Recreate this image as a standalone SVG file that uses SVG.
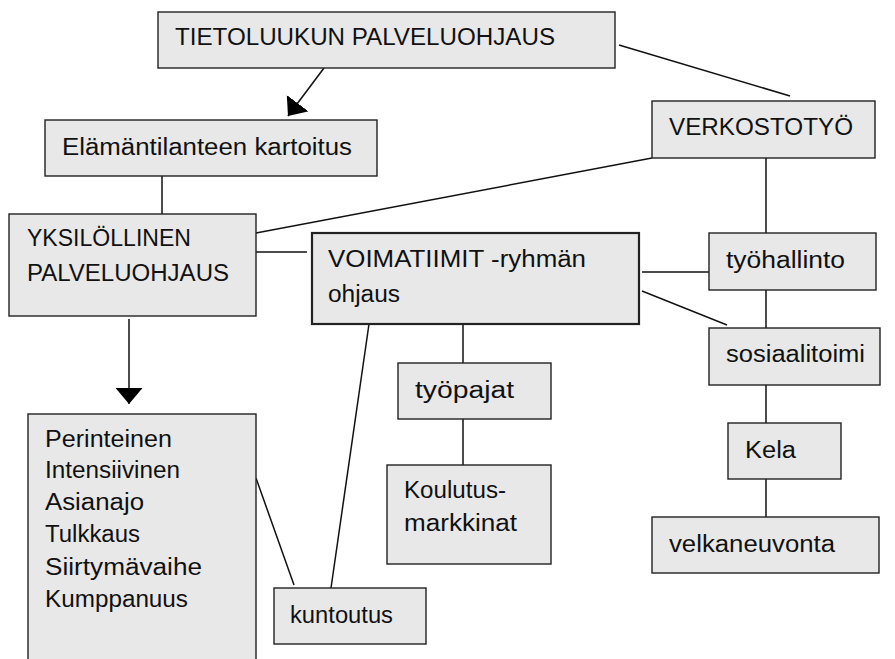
<svg xmlns="http://www.w3.org/2000/svg" width="895" height="659" viewBox="0 0 895 659">
<style>
.box{fill:#e8e8e8;stroke:#222;stroke-width:1.4}
.thick{stroke-width:2.2}
.t{font-family:"Liberation Sans","DejaVu Sans",sans-serif;font-size:23px;fill:#111}
.c{stroke:#111;stroke-width:1.5;fill:none}
</style>
<defs>
<marker id="ah" viewBox="0 0 16 27" refX="16" refY="13.5" markerWidth="16" markerHeight="27" markerUnits="userSpaceOnUse" orient="auto">
<path d="M0,0 L16,13.5 L0,27 Z" fill="#000"/>
</marker>
</defs>
<rect width="895" height="659" fill="#fff"/>
<g id="connectors">
<line class="c" x1="324" y1="68" x2="288" y2="116" marker-end="url(#ah)"/>
<line class="c" x1="619" y1="45" x2="790" y2="96"/>
<line class="c" x1="652" y1="158" x2="256" y2="233"/>
<line class="c" x1="162" y1="176" x2="162" y2="214"/>
<line class="c" x1="256" y1="252" x2="307" y2="252"/>
<line class="c" x1="642" y1="272" x2="712" y2="272"/>
<line class="c" x1="642" y1="291" x2="727" y2="325"/>
<line class="c" x1="766" y1="158" x2="766" y2="233"/>
<line class="c" x1="766" y1="290" x2="766" y2="328"/>
<line class="c" x1="766" y1="385" x2="766" y2="423"/>
<line class="c" x1="766" y1="479" x2="766" y2="517"/>
<line class="c" x1="463" y1="324" x2="463" y2="363"/>
<line class="c" x1="463" y1="419" x2="463" y2="465"/>
<line class="c" x1="369" y1="324" x2="331" y2="588"/>
<line class="c" x1="256" y1="478" x2="294" y2="585"/>
<line class="c" x1="129" y1="319" x2="129" y2="404" marker-end="url(#ah)"/>
</g>
<g id="tietoluukun">
<rect class="box" x="158" y="12" width="457" height="56"/>
<text class="t" x="175" y="45" textLength="380" lengthAdjust="spacingAndGlyphs">TIETOLUUKUN PALVELUOHJAUS</text>
</g>
<g id="elamantilanteen">
<rect class="box" x="45" y="120" width="332" height="56"/>
<text class="t" x="62" y="155" textLength="290" lengthAdjust="spacingAndGlyphs">Elämäntilanteen kartoitus</text>
</g>
<g id="verkostotyo">
<rect class="box" x="652" y="101" width="223" height="57"/>
<text class="t" x="669" y="135" textLength="184" lengthAdjust="spacingAndGlyphs">VERKOSTOTYÖ</text>
</g>
<g id="yksilollinen">
<rect class="box" x="9" y="214" width="247" height="102"/>
<text class="t" x="27" y="246" textLength="164" lengthAdjust="spacingAndGlyphs">YKSILÖLLINEN</text>
<text class="t" x="27" y="281" textLength="202" lengthAdjust="spacingAndGlyphs">PALVELUOHJAUS</text>
</g>
<g id="voimatiimit">
<rect class="box thick" x="312" y="233" width="327" height="91"/>
<text class="t" x="328" y="267" textLength="258" lengthAdjust="spacingAndGlyphs">VOIMATIIMIT -ryhmän</text>
<text class="t" x="328" y="302" textLength="72" lengthAdjust="spacingAndGlyphs">ohjaus</text>
</g>
<g id="tyohallinto">
<rect class="box" x="709" y="233" width="167" height="57"/>
<text class="t" x="726" y="268" textLength="119" lengthAdjust="spacingAndGlyphs">työhallinto</text>
</g>
<g id="sosiaalitoimi">
<rect class="box" x="709" y="328" width="171" height="57"/>
<text class="t" x="726" y="362" textLength="139" lengthAdjust="spacingAndGlyphs">sosiaalitoimi</text>
</g>
<g id="kela">
<rect class="box" x="728" y="423" width="113" height="56"/>
<text class="t" x="745" y="458" textLength="51" lengthAdjust="spacingAndGlyphs">Kela</text>
</g>
<g id="velkaneuvonta">
<rect class="box" x="652" y="517" width="227" height="56"/>
<text class="t" x="669" y="552" textLength="166" lengthAdjust="spacingAndGlyphs">velkaneuvonta</text>
</g>
<g id="tyopajat">
<rect class="box" x="398" y="363" width="153" height="56"/>
<text class="t" x="415" y="398" textLength="99" lengthAdjust="spacingAndGlyphs">työpajat</text>
</g>
<g id="koulutus">
<rect class="box" x="387" y="465" width="164" height="99"/>
<text class="t" x="404" y="498" textLength="102" lengthAdjust="spacingAndGlyphs">Koulutus-</text>
<text class="t" x="404" y="531" textLength="113" lengthAdjust="spacingAndGlyphs">markkinat</text>
</g>
<g id="kuntoutus">
<rect class="box" x="274" y="588" width="152" height="56"/>
<text class="t" x="290" y="623" textLength="103" lengthAdjust="spacingAndGlyphs">kuntoutus</text>
</g>
<g id="perinteinen">
<rect class="box" x="28" y="414" width="228" height="260"/>
<text class="t" x="45" y="447" textLength="127" lengthAdjust="spacingAndGlyphs">Perinteinen</text>
<text class="t" x="45" y="478" textLength="135" lengthAdjust="spacingAndGlyphs">Intensiivinen</text>
<text class="t" x="45" y="510" textLength="99" lengthAdjust="spacingAndGlyphs">Asianajo</text>
<text class="t" x="45" y="542" textLength="95" lengthAdjust="spacingAndGlyphs">Tulkkaus</text>
<text class="t" x="45" y="575" textLength="157" lengthAdjust="spacingAndGlyphs">Siirtymävaihe</text>
<text class="t" x="45" y="607" textLength="143" lengthAdjust="spacingAndGlyphs">Kumppanuus</text>
</g>
</svg>
